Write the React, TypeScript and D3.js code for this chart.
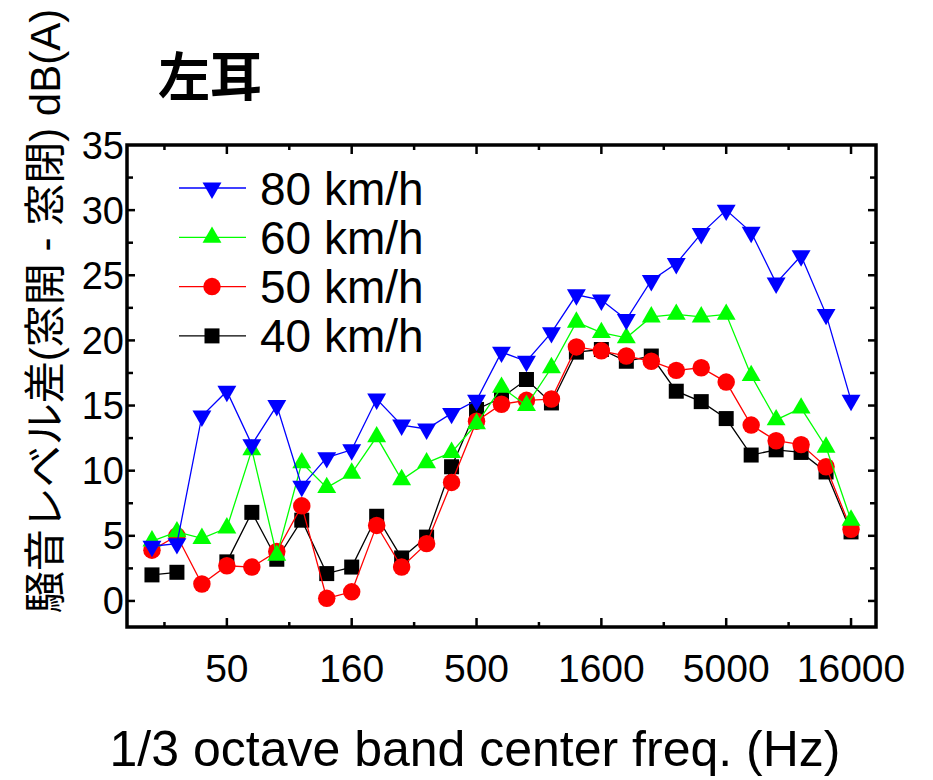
import React, { useEffect, useRef } from 'react';
import * as d3 from 'd3';

// 1/3 octave band centres (Hz)
const bands = ['25', '31.5', '40', '50', '63', '80', '100', '125', '160', '200', '250', '315', '400', '500', '630', '800', '1000', '1250', '1600', '2000', '2500', '3150', '4000', '5000', '6300', '8000', '10000', '12500', '16000'];

const v80 = [4.2, 4.4, 14.2, 16.1, 12.0, 15.0, 8.8, 11.0, 11.6, 15.5, 13.5, 13.2, 14.4, 15.4, 19.1, 18.4, 20.6, 23.5, 23.1, 21.6, 24.6, 25.9, 28.2, 30.0, 28.3, 24.4, 26.5, 22.0, 15.4];
const v60 = [4.6, 5.3, 4.8, 5.6, 11.6, 3.5, 10.6, 8.7, 9.8, 12.6, 9.3, 10.6, 11.4, 13.6, 16.4, 15.0, 17.9, 21.4, 20.6, 20.2, 21.8, 22.0, 21.8, 22.0, 17.3, 13.9, 14.8, 11.8, 6.2];
const v50 = [3.9, 5.0, 1.3, 2.7, 2.6, 3.8, 7.3, 0.2, 0.7, 5.8, 2.6, 4.4, 9.1, 13.8, 15.1, 15.4, 15.5, 19.5, 19.2, 18.8, 18.4, 17.7, 17.9, 16.8, 13.5, 12.3, 12.0, 10.3, 5.5];
const v40: (number | null)[] = [2.0, 2.2, null, 3.0, 6.8, 3.2, 6.2, 2.1, 2.6, 6.5, 3.3, 4.9, 10.3, 14.7, 15.6, 17.0, 15.2, 19.1, 19.3, 18.4, 18.8, 16.1, 15.3, 14.0, 11.2, 11.6, 11.4, 9.9, 5.3];

const xLabels = ['50', '160', '500', '1600', '5000', '16000'];
const yTicks = [0, 5, 10, 15, 20, 25, 30, 35];

const series = [
    { name: '40 km/h', values: v40, color: '#000000', shape: 'square' },
    { name: '50 km/h', values: v50, color: '#ff0000', shape: 'circle' },
    { name: '60 km/h', values: v60, color: '#00ff00', shape: 'up' },
    { name: '80 km/h', values: v80, color: '#0000ff', shape: 'down' },
];

const FONT = '"Liberation Sans", Arial, "Noto Sans CJK JP", sans-serif';

function markerPath(shape: string) {
    if (shape === 'square') return d3.symbol(d3.symbolSquare, 225)();
    if (shape === 'circle') return d3.symbol(d3.symbolCircle, 240)();
    return d3.symbol(d3.symbolTriangle, 155)();
}

function App() {
    const svgRef = useRef<SVGSVGElement>(null);

    useEffect(() => {
        const width = 933;
        const height = 780;
        const margin = { top: 145, right: 57, bottom: 153, left: 127 };

        const svg = d3.select(svgRef.current)
            .attr('width', width)
            .attr('height', height);
        svg.selectAll('*').remove();

        const x = d3.scaleLinear()
            .domain([-1, bands.length])
            .range([margin.left, width - margin.right]);
        const y = d3.scaleLinear()
            .domain([-2, 35])
            .range([height - margin.bottom, margin.top]);

        const top = margin.top;
        const bottom = height - margin.bottom;
        const left = margin.left;
        const right = width - margin.right;

        // ticks (inward, on all sides)
        const ticks = svg.append('g').attr('stroke', '#000').attr('stroke-width', 2.5);
        const majorIdx = xLabels.map(l => bands.indexOf(l));
        const minorIdx = majorIdx.map(i => i - 2.5);
        majorIdx.forEach(i => {
            ticks.append('line').attr('x1', x(i)).attr('x2', x(i)).attr('y1', bottom).attr('y2', bottom - 9);
            ticks.append('line').attr('x1', x(i)).attr('x2', x(i)).attr('y1', top).attr('y2', top + 9);
        });
        minorIdx.forEach(i => {
            ticks.append('line').attr('x1', x(i)).attr('x2', x(i)).attr('y1', bottom).attr('y2', bottom - 5);
            ticks.append('line').attr('x1', x(i)).attr('x2', x(i)).attr('y1', top).attr('y2', top + 5);
        });
        d3.range(0, 35, 2.5).forEach(v => {
            const len = v % 5 === 0 ? 8 : 6;
            ticks.append('line').attr('x1', left).attr('x2', left + len).attr('y1', y(v)).attr('y2', y(v));
            ticks.append('line').attr('x1', right).attr('x2', right - len).attr('y1', y(v)).attr('y2', y(v));
        });

        // frame
        svg.append('rect')
            .attr('x', left).attr('y', top)
            .attr('width', right - left).attr('height', bottom - top)
            .attr('fill', 'none').attr('stroke', '#000').attr('stroke-width', 3.5);

        // tick labels
        svg.append('g').selectAll('text')
            .data(yTicks)
            .enter()
            .append('text')
            .attr('x', left - 3)
            .attr('y', d => y(d) + 13.5)
            .attr('text-anchor', 'end')
            .attr('font-family', FONT)
            .attr('font-size', 38)
            .text(d => d);

        svg.append('g').selectAll('text')
            .data(xLabels)
            .enter()
            .append('text')
            .attr('x', d => x(bands.indexOf(d)))
            .attr('y', 682)
            .attr('text-anchor', 'middle')
            .attr('font-family', FONT)
            .attr('font-size', 39)
            .text(d => d);

        // lines and markers
        series.forEach(s => {
            const pts = s.values.map((v, i) => ({ i, v }));
            const line = d3.line<{ i: number; v: number | null }>()
                .defined(d => d.v !== null)
                .x(d => x(d.i))
                .y(d => y(d.v as number));
            svg.append('path')
                .datum(pts)
                .attr('d', line)
                .attr('fill', 'none')
                .attr('stroke', s.color)
                .attr('stroke-width', 1.3);
            svg.append('g').selectAll('path')
                .data(pts.filter(d => d.v !== null))
                .enter()
                .append('path')
                .attr('d', markerPath(s.shape))
                .attr('transform', d => `translate(${x(d.i)},${y(d.v as number)})${s.shape === 'down' ? ' rotate(180)' : ''}`)
                .attr('fill', s.color);
        });

        // legend
        const legend = svg.append('g');
        const legendRows = series.slice().reverse();
        legendRows.forEach((s, k) => {
            const ly = 188 + k * 49.3;
            legend.append('line')
                .attr('x1', 179).attr('x2', 246).attr('y1', ly).attr('y2', ly)
                .attr('stroke', s.color).attr('stroke-width', 1.3);
            legend.append('path')
                .attr('d', markerPath(s.shape))
                .attr('transform', `translate(212,${ly})${s.shape === 'down' ? ' rotate(180)' : ''}`)
                .attr('fill', s.color);
            legend.append('text')
                .attr('x', 260)
                .attr('y', ly + 16.5)
                .attr('font-family', FONT)
                .attr('font-size', 46)
                .text(s.name);
        });

        // titles
        svg.append('text')
            .attr('x', 158)
            .attr('y', 96)
            .attr('font-family', '"Noto Sans CJK JP", sans-serif')
            .attr('font-weight', 'bold')
            .attr('font-size', 52)
            .text('左耳');

        svg.append('text')
            .attr('x', 475)
            .attr('y', 766)
            .attr('text-anchor', 'middle')
            .attr('font-family', FONT)
            .attr('font-size', 50)
            .text('1/3 octave band center freq. (Hz)');

        svg.append('text')
            .attr('transform', 'translate(60,311) rotate(-90)')
            .attr('text-anchor', 'middle')
            .attr('font-family', FONT)
            .attr('font-size', 42)
            .text('騒音レベル差(窓開 - 窓閉) dB(A)');
    }, []);

    return <svg ref={svgRef} style={{ position: 'absolute', left: 0, top: 0 }}></svg>;
}

export default App;
